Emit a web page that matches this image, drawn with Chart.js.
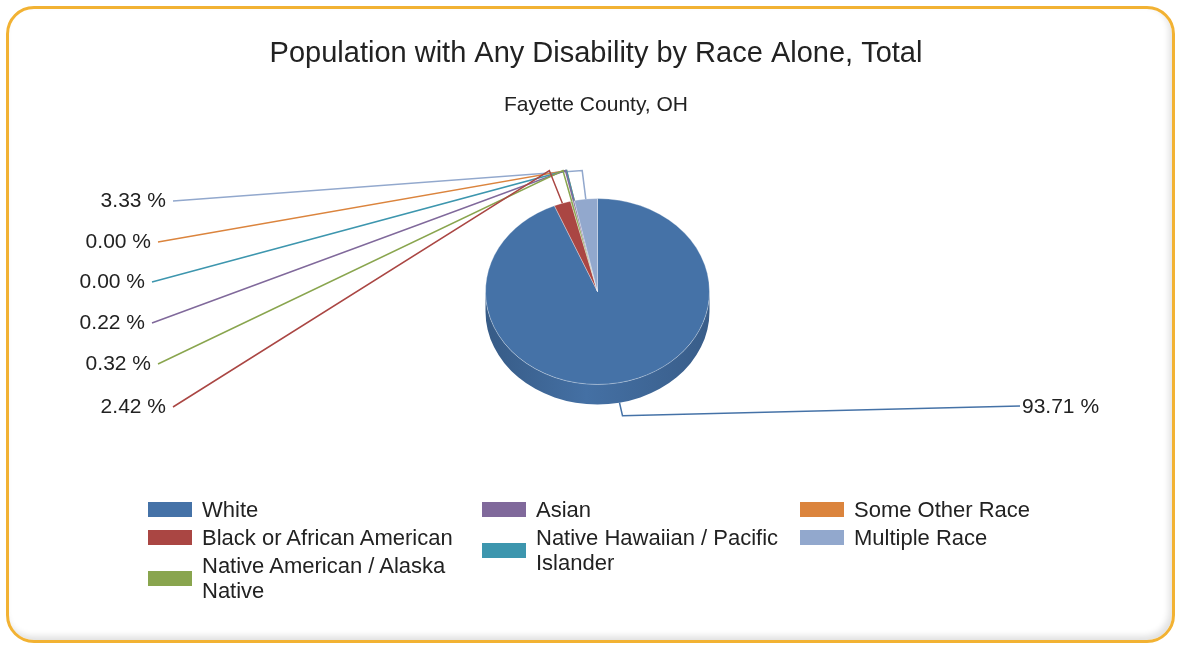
<!DOCTYPE html>
<html>
<head>
<meta charset="utf-8">
<script src="https://cdn.jsdelivr.net/npm/chart.js@4.4.1/dist/chart.umd.min.js"></script>
<style>
  html, body { margin: 0; padding: 0; background: #fff; }
  body { width: 1178px; height: 650px; position: relative; overflow: hidden; font-family: "Liberation Sans", Arial, sans-serif; color: #222; }
  #frame { position: absolute; left: 6px; top: 6px; width: 1163px; height: 631px; border: 3px solid #F2B233; border-radius: 28px; box-shadow: inset -3px -4px 6px rgba(0,0,0,0.12); }
  #pie { position: absolute; left: 0; top: 0; }
  .legend-col { position: absolute; top: 497px; }
  .legend-item { display: flex; align-items: center; margin-bottom: 3px; font-size: 22px; line-height: 25px; }
  .legend-item .box { width: 44px; height: 15px; margin-right: 10px; flex: none; }
  .legend-item .txt { max-width: 262px; }
</style>
</head>
<body>
<div id="frame"></div>
<canvas id="pie" width="1178" height="650"></canvas>
<div id="legend"></div>
<script>
// categories and values (percent of population with any disability)
const raceLabels = ['White', 'Black or African American', 'Native American / Alaska Native', 'Asian',
                    'Native Hawaiian / Pacific Islander', 'Some Other Race', 'Multiple Race'];
const sharePct = [93.71, 2.42, 0.32, 0.22, 0.00, 0.00, 3.33];
const sliceColors = ['#4572A7', '#AA4643', '#89A54E', '#80699B', '#3D96AE', '#DB843D', '#92A8CD'];

const chartTitle = 'Population with Any Disability by Race Alone, Total';
const chartSubtitle = 'Fayette County, OH';

// layout bits
const tilt = 0.83;      // vertical squash of the pie
const depth = 20;       // thickness of the pie side
const leftSpots = [     // right edge x / middle y of the stacked callout labels, top to bottom
    [166, 201], [151, 242], [145, 282], [145, 323], [151, 364], [166, 407]
];
const rightSpot = [1022, 407];
const legendCols = [3, 2, 2];
const legendLeft = [148, 482, 800];

function shade(hex, f) {
    const n = parseInt(hex.slice(1), 16);
    const r = Math.round(((n >> 16) & 255) * f), g = Math.round(((n >> 8) & 255) * f), b = Math.round((n & 255) * f);
    return 'rgb(' + r + ',' + g + ',' + b + ')';
}

// draws the side of the pie, then squashes the top so it looks tilted
const pie3d = {
    id: 'pie3d',
    beforeDatasetsDraw(chart) {
        const ctx = chart.ctx;
        const arcs = chart.getDatasetMeta(0).data;
        const cx = arcs[0].x, cy = arcs[0].y, r = arcs[0].outerRadius;
        const ry = r * tilt;
        arcs.forEach((arc, i) => {
            const s = Math.max(arc.startAngle, 0), e = Math.min(arc.endAngle, Math.PI);
            if (e <= s) return;
            const grad = ctx.createLinearGradient(cx - r, 0, cx + r, 0);
            grad.addColorStop(0, shade(sliceColors[i], 0.8));
            grad.addColorStop(0.45, shade(sliceColors[i], 0.98));
            grad.addColorStop(1, shade(sliceColors[i], 0.82));
            ctx.beginPath();
            ctx.ellipse(cx, cy, r, ry, 0, s, e);
            ctx.ellipse(cx, cy + depth, r, ry, 0, e, s, true);
            ctx.closePath();
            ctx.fillStyle = grad;
            ctx.fill();
        });
        ctx.save();
        ctx.translate(cx, cy);
        ctx.scale(1, tilt);
        ctx.translate(-cx, -cy);
    },
    afterDatasetsDraw(chart) {
        chart.ctx.restore();
    }
};

// titles and the callout labels with their leader lines
const callouts = {
    id: 'callouts',
    afterDraw(chart) {
        const ctx = chart.ctx;
        const arcs = chart.getDatasetMeta(0).data;
        const cx = arcs[0].x, cy = arcs[0].y, r = arcs[0].outerRadius;
        const ry = r * tilt;

        ctx.save();
        ctx.fillStyle = '#222';
        ctx.textAlign = 'center';
        ctx.textBaseline = 'alphabetic';
        ctx.font = '29px "Liberation Sans", Arial, sans-serif';
        ctx.fillText(chartTitle, 596, 62);
        ctx.font = '21px "Liberation Sans", Arial, sans-serif';
        ctx.fillText(chartSubtitle, 596, 111);

        ctx.font = '21px "Liberation Sans", Arial, sans-serif';
        ctx.textBaseline = 'middle';
        ctx.lineWidth = 1.5;

        const upper = [];
        arcs.forEach((arc, i) => {
            const mid = (arc.startAngle + arc.endAngle) / 2;
            const c = Math.cos(mid), s = Math.sin(mid);
            ctx.strokeStyle = sliceColors[i];
            const label = sharePct[i].toFixed(2) + ' %';
            if (s > 0) {
                // slice faces the viewer: hook from the bottom of the side out to the right
                const px = cx + r * c, py = cy + ry * s + depth;
                ctx.beginPath();
                ctx.moveTo(px, py);
                ctx.lineTo(px + 3, py + 13);
                ctx.lineTo(rightSpot[0] - 2, rightSpot[1] - 1);
                ctx.stroke();
                ctx.textAlign = 'left';
                ctx.fillText(label, rightSpot[0], rightSpot[1]);
            } else {
                upper.push({ i, mid, c, s, label });
            }
        });

        // stack the back slices top to bottom, last slice first
        upper.sort((a, b) => (b.mid - a.mid) || (b.i - a.i));
        upper.forEach((u, k) => {
            const spot = leftSpots[k];
            const px = cx + r * u.c, py = cy + ry * u.s;
            const f = (ry + 28) / (ry * -u.s);
            const ex = cx + r * u.c * f, ey = cy - ry - 28;
            ctx.strokeStyle = sliceColors[u.i];
            ctx.beginPath();
            ctx.moveTo(spot[0] + 7, spot[1]);
            ctx.lineTo(ex, ey);
            ctx.lineTo(px, py);
            ctx.stroke();
            ctx.textAlign = 'right';
            ctx.fillText(u.label, spot[0], spot[1]);
        });
        ctx.restore();
    }
};

const chart = new Chart(document.getElementById('pie'), {
    type: 'pie',
    data: {
        labels: raceLabels,
        datasets: [{
            data: sharePct,
            backgroundColor: sliceColors,
            borderWidth: 1,
            borderColor: 'rgba(255,255,255,0.35)'
        }]
    },
    options: {
        responsive: false,
        animation: false,
        devicePixelRatio: 1,
        events: [],
        layout: { padding: { left: 485, top: 179, right: 468, bottom: 246 } },
        plugins: {
            legend: { display: false },
            tooltip: { enabled: false },
            title: { display: false }
        }
    },
    plugins: [pie3d, callouts]
});

// legend, filled column by column
const legendEl = document.getElementById('legend');
let n = 0;
legendCols.forEach((count, col) => {
    const colEl = document.createElement('div');
    colEl.className = 'legend-col';
    colEl.style.left = legendLeft[col] + 'px';
    for (let j = 0; j < count; j++, n++) {
        const item = document.createElement('div');
        item.className = 'legend-item';
        item.innerHTML = '<span class="box" style="background:' + sliceColors[n] + '"></span><span class="txt"></span>';
        item.querySelector('.txt').textContent = raceLabels[n];
        colEl.appendChild(item);
    }
    legendEl.appendChild(colEl);
});
</script>
</body>
</html>
